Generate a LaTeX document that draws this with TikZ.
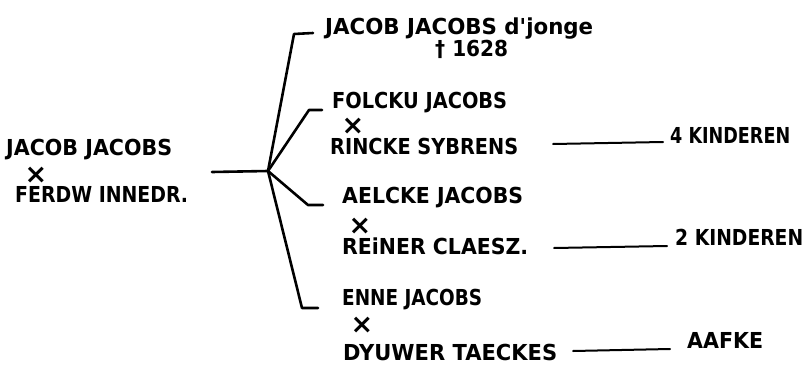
\documentclass[tikz,border=0pt]{standalone}
\usepackage{fontspec}
\newfontfamily\hand{DejaVu Sans}
\usepackage{graphicx}
\newcommand{\fitw}[2]{\resizebox{#1}{\height}{#2}}
\tikzset{
  lbl/.style={anchor=base west, inner sep=0pt, font=\hand\bfseries\fontsize{22}{24}\selectfont},
  marr/.style={anchor=center, inner sep=0pt, font=\hand\bfseries\fontsize{27}{29}\selectfont},
  branch/.style={line width=2.6pt, line join=round, line cap=round},
  kline/.style={line width=2pt, line cap=round}
}
\begin{document}
\begin{tikzpicture}[x=1pt,y=-1pt]
\useasboundingbox[fill=white] (0,0) rectangle (808,364);
% left couple
\node[lbl] (p1) at (6,155) {\fitw{166pt}{JACOB JACOBS}};
\node[marr] (x0) at (36,175) {×};
\node[lbl] (p2) at (15,202) {\fitw{173pt}{FERDW INNEDR.}};
% children
\node[lbl] (c1) at (325,34) {\fitw{268pt}{JACOB JACOBS d'jonge}};
\node[lbl] (c1d) at (435,56) {\fitw{73pt}{† 1628}};
\node[lbl] (c2) at (332,108) {\fitw{175pt}{FOLCKU JACOBS}};
\node[marr] (x2) at (353,126) {×};
\node[lbl] (c2s) at (330,154) {\fitw{188pt}{RINCKE SYBRENS}};
\node[lbl] (c3) at (342,203) {\fitw{181pt}{AELCKE JACOBS}};
\node[marr] (x3) at (360,226) {×};
\node[lbl] (c3s) at (342,254) {\fitw{186pt}{REiNER CLAESZ.}};
\node[lbl] (c4) at (342,305) {\fitw{140pt}{ENNE JACOBS}};
\node[marr] (x4) at (362,325) {×};
\node[lbl] (c4s) at (343,360) {\fitw{214pt}{DYUWER TAECKES}};
% grandchildren
\node[lbl] (g2) at (670,143) {\fitw{120pt}{4 KINDEREN}};
\node[lbl] (g3) at (675,245) {\fitw{128pt}{2 KINDEREN}};
\node[lbl] (g4) at (687,348) {\fitw{76pt}{AAFKE}};
% tree connectors
\coordinate (s0) at (212,172);
\coordinate (hub) at (268,171);
\coordinate (k1) at (294,34);
\coordinate (e1) at (313,33);
\coordinate (k2) at (309,110);
\coordinate (e2) at (322,110);
\coordinate (k3) at (308,205);
\coordinate (e3) at (323,205);
\coordinate (k4) at (302,308);
\coordinate (e4) at (318,308);
\draw[branch] (s0) -- (hub);
\draw[branch] (hub) -- (k1) -- (e1);
\draw[branch] (hub) -- (k2) -- (e2);
\draw[branch] (hub) -- (k3) -- (e3);
\draw[branch] (hub) -- (k4) -- (e4);
% descendant lines
\coordinate (a2) at (553,144);
\coordinate (b2) at (663,142);
\coordinate (a3) at (554,248);
\coordinate (b3) at (667,246);
\coordinate (a4) at (573,351);
\coordinate (b4) at (670,349);
\draw[kline] (a2) -- (b2);
\draw[kline] (a3) -- (b3);
\draw[kline] (a4) -- (b4);
\end{tikzpicture}
\end{document}
